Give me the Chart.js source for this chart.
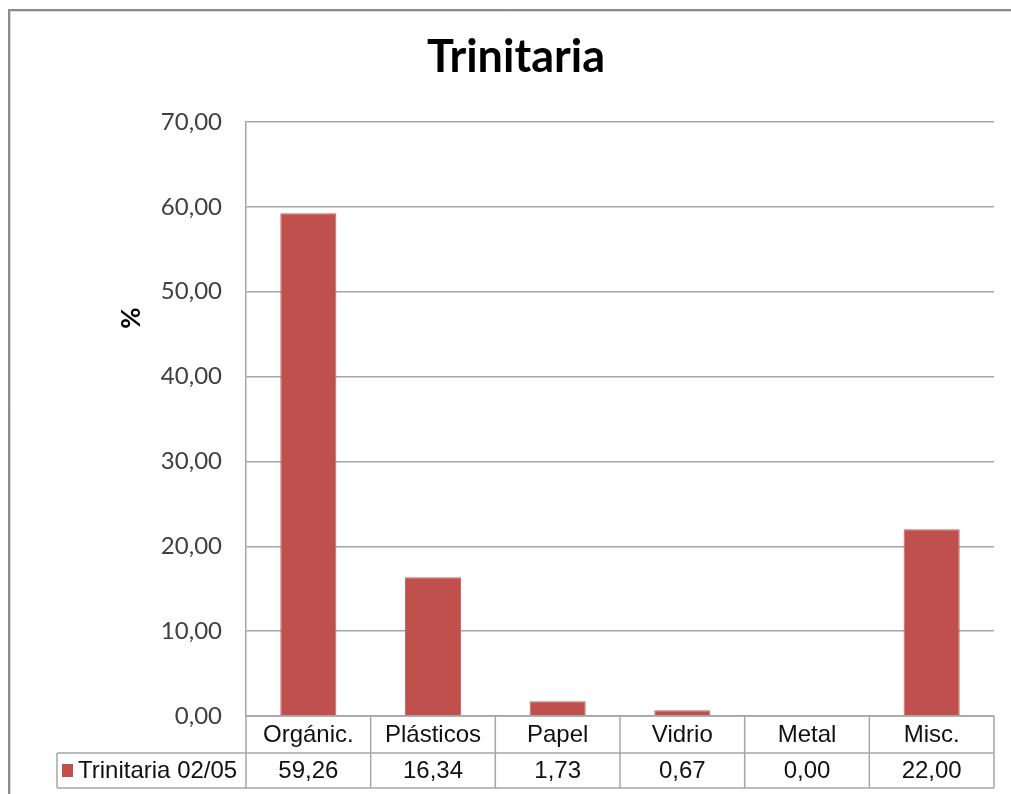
<!DOCTYPE html>
<html>
<head>
<meta charset="utf-8">
<script src="https://cdn.jsdelivr.net/npm/chart.js@4.4.1/dist/chart.umd.min.js"></script>
<style>
  html, body { margin: 0; padding: 0; background: #ffffff; }
  #wrap { position: relative; width: 1011px; height: 794px; }
</style>
</head>
<body>
<div id="wrap"><canvas id="c" width="1011" height="794"></canvas></div>
<script>
// Composición de residuos - Trinitaria
const categories = ['Orgánic.', 'Plásticos', 'Papel', 'Vidrio', 'Metal', 'Misc.'];
const seriesName = 'Trinitaria 02/05';
const seriesValues = [59.26, 16.34, 1.73, 0.67, 0.00, 22.00];
const yTicks = [0, 10, 20, 30, 40, 50, 60, 70];
const chartTitle = 'Trinitaria';
const yTitle = '%';

const BAR_COLOR = '#C0504D';
const GRID_COLOR = '#a6a6a6';
const TABLE_COLOR = '#a6a6a6';

const fmt = v => v.toFixed(2).replace('.', ',');

// Frame, title, axis title and data table below the plot
const decorations = {
  id: 'decorations',
  afterDraw(chart) {
    const ctx = chart.ctx;
    const x = chart.scales.x;
    const area = chart.chartArea;
    ctx.save();

    // outer frame (top and left edges)
    ctx.strokeStyle = '#8c8c8c';
    ctx.lineWidth = 2;
    ctx.beginPath();
    ctx.moveTo(9, 794);
    ctx.lineTo(9, 10);
    ctx.lineTo(1011, 10);
    ctx.stroke();
    ctx.strokeStyle = '#d9d9d9';
    ctx.lineWidth = 1;
    ctx.beginPath();
    ctx.moveTo(10.5, 794);
    ctx.lineTo(10.5, 11.5);
    ctx.lineTo(1011, 11.5);
    ctx.stroke();

    // title
    ctx.fillStyle = '#000000';
    ctx.font = 'bold 45px Lato, "Open Sans", sans-serif';
    ctx.textAlign = 'center';
    ctx.textBaseline = 'alphabetic';
    ctx.fillText(chartTitle, 516, 72);

    // y axis title
    ctx.save();
    ctx.translate(132, 318);
    ctx.rotate(-Math.PI / 2);
    ctx.font = 'bold 26px Lato, "Open Sans", sans-serif';
    ctx.textAlign = 'center';
    ctx.textBaseline = 'middle';
    ctx.fillText(yTitle, 0, 0);
    ctx.restore();

    // data table
    const n = categories.length;
    const colW = (area.right - area.left) / n;
    const row1Top = area.bottom;
    const row2Top = area.bottom + 37;
    const rowBottom = area.bottom + 72;
    const legendLeft = 57;

    ctx.strokeStyle = TABLE_COLOR;
    ctx.lineWidth = 1.5;
    ctx.beginPath();
    // horizontal lines
    ctx.moveTo(area.left, row1Top); ctx.lineTo(area.right, row1Top);
    ctx.moveTo(legendLeft, row2Top); ctx.lineTo(area.right, row2Top);
    ctx.moveTo(legendLeft, rowBottom); ctx.lineTo(area.right, rowBottom);
    // vertical lines
    ctx.moveTo(legendLeft, row2Top); ctx.lineTo(legendLeft, rowBottom);
    for (let i = 0; i <= n; i++) {
      const px = area.left + i * colW;
      ctx.moveTo(px, row1Top); ctx.lineTo(px, rowBottom);
    }
    ctx.stroke();

    ctx.font = '24px "Liberation Sans", Arial, sans-serif';
    ctx.fillStyle = '#111111';
    ctx.textAlign = 'center';
    ctx.textBaseline = 'middle';
    categories.forEach((c, i) => {
      const cx = x.getPixelForValue(i);
      ctx.fillText(c, cx, (row1Top + row2Top) / 2 + 1);
      ctx.fillText(fmt(seriesValues[i]), cx, (row2Top + rowBottom) / 2 + 1);
    });

    // legend key in the series row
    ctx.fillStyle = BAR_COLOR;
    ctx.fillRect(62, row2Top + 11, 11, 13);
    ctx.fillStyle = '#111111';
    ctx.textAlign = 'left';
    ctx.fillText(seriesName, 78, (row2Top + rowBottom) / 2 + 1);

    ctx.restore();
  }
};

new Chart(document.getElementById('c'), {
  type: 'bar',
  data: {
    labels: categories,
    datasets: [{
      label: seriesName,
      data: seriesValues,
      backgroundColor: BAR_COLOR,
      borderColor: '#c9625f',
      borderWidth: 1,
      categoryPercentage: 1,
      barPercentage: 0.45
    }]
  },
  options: {
    responsive: false,
    animation: false,
    devicePixelRatio: 1,
    layout: { padding: { top: 122, right: 17, bottom: 78, left: 0 } },
    plugins: {
      legend: { display: false },
      title: { display: false },
      tooltip: { enabled: false }
    },
    scales: {
      x: {
        display: false
      },
      y: {
        min: yTicks[0],
        max: yTicks[yTicks.length - 1],
        afterFit(scale) { scale.width = 246; },
        afterBuildTicks(scale) { scale.ticks = yTicks.map(v => ({ value: v })); },
        grid: {
          color: GRID_COLOR,
          lineWidth: 1.5,
          drawTicks: false
        },
        border: { display: true, color: GRID_COLOR, width: 1.5 },
        ticks: {
          padding: 24,
          color: '#404040',
          font: { family: 'Lato, "Open Sans", sans-serif', size: 24 },
          callback: v => fmt(v)
        }
      }
    }
  },
  plugins: [decorations]
});
</script>
</body>
</html>
